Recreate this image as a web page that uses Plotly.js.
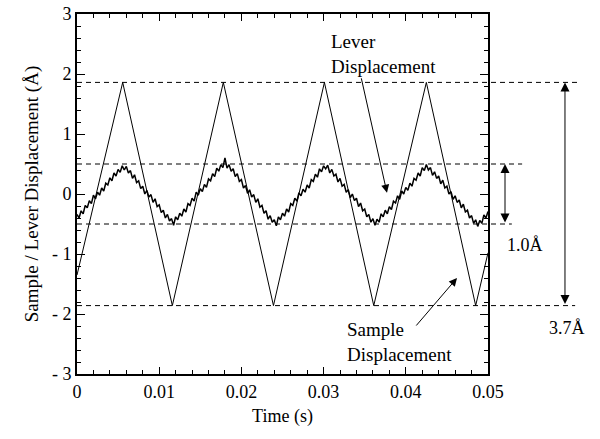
<!DOCTYPE html>
<html>
<head>
<meta charset="utf-8">
<script src="https://cdn.plot.ly/plotly-3.0.1.min.js"></script>
<style>html,body{margin:0;padding:0;background:#fff;}#chart{width:600px;height:439px;}</style>
</head>
<body>
<div id="chart"></div>
<script>
// Sample displacement (triangle drive) vertices
const sampleTime = [0, 0.00556, 0.0116, 0.0178, 0.0239, 0.0301, 0.0361, 0.0425, 0.0485, 0.05];
const sampleDisp = [-1.35, 1.86, -1.86, 1.86, -1.86, 1.86, -1.86, 1.86, -1.86, -0.98];

// Lever displacement (noisy trace), sampled every 0.00025 s starting at 0 s
const leverStart = 0;
const leverStep = 0.00025;
const leverDisp = [
  -0.34, -0.40, -0.28, -0.33, -0.19, -0.23, -0.11, -0.16, -0.02, -0.08,
  0.03, -0.02, 0.10, 0.05, 0.18, 0.15, 0.27, 0.22, 0.35, 0.30,
  0.41, 0.36, 0.47, 0.40, 0.46, 0.35, 0.39, 0.26, 0.32, 0.19,
  0.22, 0.09, 0.13, 0.00, 0.06, -0.05, -0.01, -0.14, -0.08, -0.21,
  -0.18, -0.31, -0.27, -0.40, -0.34, -0.45, -0.41, -0.52, -0.38, -0.43,
  -0.32, -0.37, -0.25, -0.30, -0.16, -0.19, -0.07, -0.12, 0.03, -0.02,
  0.09, 0.04, 0.16, 0.11, 0.25, 0.22, 0.34, 0.29, 0.43, 0.38,
  0.49, 0.44, 0.60, 0.43, 0.49, 0.38, 0.42, 0.29, 0.34, 0.21,
  0.24, 0.10, 0.14, 0.01, 0.07, -0.05, -0.01, -0.14, -0.08, -0.22,
  -0.19, -0.32, -0.28, -0.42, -0.36, -0.47, -0.43, -0.53, -0.38, -0.43,
  -0.32, -0.37, -0.25, -0.30, -0.16, -0.19, -0.07, -0.12, 0.02, -0.03,
  0.08, 0.03, 0.15, 0.10, 0.24, 0.21, 0.33, 0.28, 0.42, 0.37,
  0.47, 0.42, 0.48, 0.35, 0.41, 0.30, 0.33, 0.20, 0.26, 0.13,
  0.16, 0.03, 0.07, -0.06, 0.00, -0.11, -0.07, -0.21, -0.15, -0.28,
  -0.25, -0.38, -0.34, -0.47, -0.41, -0.52, -0.42, -0.47, -0.33, -0.38,
  -0.27, -0.33, -0.21, -0.26, -0.12, -0.15, -0.03, -0.09, 0.05, 0.00,
  0.11, 0.06, 0.18, 0.13, 0.26, 0.23, 0.35, 0.30, 0.44, 0.39,
  0.49, 0.40, 0.44, 0.31, 0.37, 0.26, 0.30, 0.17, 0.23, 0.10,
  0.13, 0.00, 0.04, -0.09, -0.03, -0.14, -0.10, -0.23, -0.17, -0.30,
  -0.27, -0.40, -0.36, -0.49, -0.43, -0.54, -0.44, -0.49, -0.35, -0.40,
  -0.29
];

// Reference levels
const sampleHigh = 1.86, sampleLow = -1.86;
const leverHigh = 0.5, leverLow = -0.5;

const xTickVals = [0, 0.01, 0.02, 0.03, 0.04, 0.05];
const xTickText = ['0', '0.01', '0.02', '0.03', '0.04', '0.05'];
const yTickVals = [-3, -2, -1, 0, 1, 2, 3];
const yTickText = ['- 3', '- 2', '- 1', '0', '1', '2', '3'];

const FONT = '"Liberation Serif", "DejaVu Serif", serif';

const traces = [
  {x: sampleTime, y: sampleDisp, mode: 'lines', line: {color: '#000', width: 1}, hoverinfo: 'skip'},
  {x0: leverStart, dx: leverStep, y: leverDisp, mode: 'lines', line: {color: '#000', width: 1.5}, hoverinfo: 'skip'}
];

function hdash(y, x1) {
  return {type: 'line', xref: 'paper', yref: 'y', x0: 0, x1: x1, y0: y, y1: y,
          line: {color: '#000', width: 1, dash: '5px,4px'}};
}

const layout = {
  width: 600, height: 439,
  margin: {l: 77, r: 112, t: 14, b: 65},
  paper_bgcolor: '#fff', plot_bgcolor: '#fff',
  showlegend: false,
  font: {family: FONT, color: '#000', size: 17},
  xaxis: {
    range: [0, 0.05], tickvals: xTickVals, ticktext: xTickText,
    ticks: 'inside', ticklen: 7, tickwidth: 1, tickcolor: '#000',
    minor: {dtick: 0.002, ticks: 'inside', ticklen: 4, tickcolor: '#000', tickwidth: 1},
    showline: true, linecolor: '#000', linewidth: 2, mirror: 'allticks',
    showgrid: false, zeroline: false,
    tickfont: {family: FONT, size: 18},
    title: {text: 'Time (s)', font: {family: FONT, size: 18}, standoff: 9}
  },
  yaxis: {
    range: [-3, 3], tickvals: yTickVals, ticktext: yTickText,
    ticks: 'inside', ticklen: 8, tickwidth: 1, tickcolor: '#000',
    minor: {dtick: 0.2, ticks: 'inside', ticklen: 4, tickcolor: '#000', tickwidth: 1},
    showline: true, linecolor: '#000', linewidth: 2, mirror: 'allticks',
    showgrid: false, zeroline: false,
    tickfont: {family: FONT, size: 18},
    title: {text: 'Sample / Lever Displacement (Å)', font: {family: FONT, size: 19}, standoff: 8}
  },
  shapes: [
    hdash(sampleHigh, 1.217),
    hdash(leverHigh, 1.083),
    hdash(leverLow, 1.058),
    hdash(sampleLow, 1.212)
  ],
  annotations: [
    {text: 'Lever<br>Displacement', xref: 'paper', yref: 'y', x: 0.613, y: 2.75,
     xanchor: 'left', yanchor: 'top', align: 'left', showarrow: false,
     font: {family: FONT, size: 19}},
    {text: '', xref: 'x', yref: 'y', x: 0.03771, y: 0.02, ax: -26, ay: -116,
     showarrow: true, arrowhead: 2, arrowsize: 1.6, arrowwidth: 1, arrowcolor: '#000', standoff: 0},
    {text: 'Sample<br>Displacement', xref: 'paper', yref: 'y', x: 0.652, y: -2.05,
     xanchor: 'left', yanchor: 'top', align: 'left', showarrow: false,
     font: {family: FONT, size: 19}},
    {text: '', xref: 'x', yref: 'y', x: 0.04623, y: -1.4, ax: -42, ay: 49,
     showarrow: true, arrowhead: 2, arrowsize: 1.6, arrowwidth: 1, arrowcolor: '#000', standoff: 0},
    {text: '', xref: 'paper', yref: 'y', x: 1.0414, y: leverHigh, axref: 'pixel', ayref: 'y', ax: 0, ay: leverLow,
     showarrow: true, arrowside: 'end+start', arrowhead: 2, arrowsize: 1.8, arrowwidth: 1, arrowcolor: '#000',
     standoff: 0, startstandoff: 0, startarrowhead: 2, startarrowsize: 1.8},
    {text: '', xref: 'paper', yref: 'y', x: 1.1873, y: sampleHigh, axref: 'pixel', ayref: 'y', ax: 0, ay: sampleLow,
     showarrow: true, arrowside: 'end+start', arrowhead: 2, arrowsize: 1.8, arrowwidth: 1, arrowcolor: '#000',
     standoff: 0, startstandoff: 0, startarrowhead: 2, startarrowsize: 1.8},
    {text: '1.0Å', xref: 'paper', yref: 'y', x: 1.09, y: -0.85, xanchor: 'center', yanchor: 'middle',
     showarrow: false, font: {family: FONT, size: 18}},
    {text: '3.7Å', xref: 'paper', yref: 'y', x: 1.192, y: -2.23, xanchor: 'center', yanchor: 'middle',
     showarrow: false, font: {family: FONT, size: 18}}
  ]
};

Plotly.newPlot('chart', traces, layout, {staticPlot: true, displayModeBar: false});
</script>
</body>
</html>
